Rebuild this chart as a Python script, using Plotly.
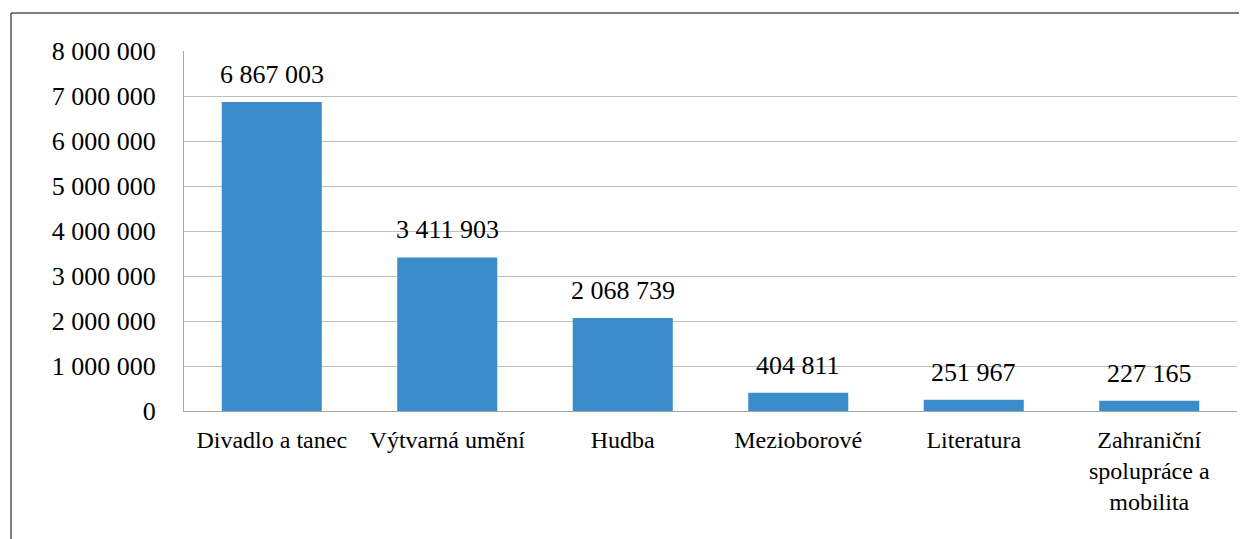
import plotly.graph_objects as go

categories = ["Divadlo a tanec", "Výtvarná umění", "Hudba", "Mezioborové", "Literatura",
              "Zahraniční<br>spolupráce a<br>mobilita"]
values = [6867003, 3411903, 2068739, 404811, 251967, 227165]
labels = [f"{v:,}".replace(",", " ") for v in values]
tick_vals = [0, 1000000, 2000000, 3000000, 4000000, 5000000, 6000000, 7000000, 8000000]
tick_text = [f"{v:,}".replace(",", " ") for v in tick_vals]

FF = "Times New Roman, Liberation Serif, serif"
OFF = 8  # page offset of the plot in the browser
L, T = 184 - OFF, 51 - OFF
R = 18
B = 539 - (411 - OFF)
PW = 1247 - L - R
PH = 539 - T - B

fig = go.Figure(go.Bar(
    x=categories, y=values,
    marker=dict(color="#3A8DCA", line=dict(width=0)),
    cliponaxis=False,
))

# data labels above bars
for c, v, t in zip(categories, values, labels):
    fig.add_annotation(x=c, y=v, xref="x", yref="y", text=t, showarrow=False,
                       yanchor="bottom", yshift=11,
                       font=dict(family=FF, size=26, color="#000000"))

fig.update_layout(
    width=1247, height=539,
    margin=dict(l=L, r=R, t=T, b=B),
    paper_bgcolor="white", plot_bgcolor="white",
    bargap=0.43,
    showlegend=False,
    font=dict(family=FF, size=24, color="#000000"),
    xaxis=dict(showline=True, linecolor="#A6A6A6", linewidth=1, ticks="",
               tickfont=dict(family=FF, size=24, color="#000000"), ticklabelstandoff=7),
    yaxis=dict(range=[0, 8000000], tickvals=tick_vals, ticktext=tick_text,
               showgrid=True, gridcolor="#BFBFBF", gridwidth=1,
               showline=True, linecolor="#A6A6A6", linewidth=1, zeroline=False,
               tickfont=dict(family=FF, size=26, color="#000000"), ticklabelstandoff=22),
)
# outer border lines (top and left)
top_y = (PH + (T - (13 - OFF))) / PH
left_x = -(L - (11 - OFF)) / PW
fig.add_shape(type="line", xref="paper", yref="paper",
              x0=left_x, x1=(PW + R) / PW, y0=top_y, y1=top_y,
              line=dict(color="#000000", width=1))
fig.add_shape(type="line", xref="paper", yref="paper",
              x0=left_x, x1=left_x, y0=top_y, y1=-B / PH,
              line=dict(color="#000000", width=1))

fig.write_html("out.html")
